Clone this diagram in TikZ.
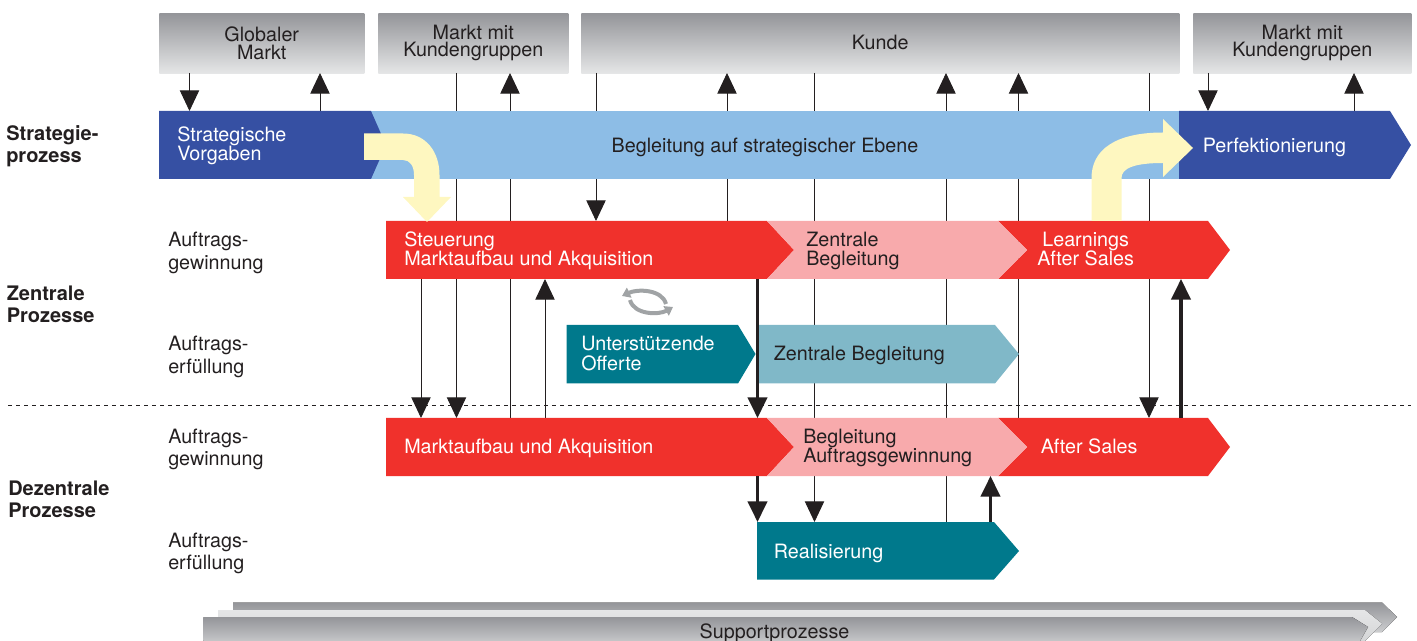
\documentclass[tikz,border=0pt]{standalone}
\usepackage{fontspec}
\setmainfont{TeX Gyre Heros}
\usetikzlibrary{arrows.meta}
\definecolor{inkblack}{RGB}{35,31,32}
\definecolor{darkblue}{RGB}{54,80,163}
\definecolor{lightblue}{RGB}{141,189,230}
\definecolor{redband}{RGB}{240,49,44}
\definecolor{pinkband}{RGB}{248,170,172}
\definecolor{darkteal}{RGB}{0,121,140}
\definecolor{lightteal}{RGB}{128,184,200}
\definecolor{paleyellow}{RGB}{254,247,192}
\definecolor{boxtop}{RGB}{148,149,153}
\definecolor{boxbottom}{RGB}{229,230,231}
\definecolor{cyclegrey}{RGB}{160,163,165}
\tikzset{
  head/.style={-{Triangle[length=15.5pt,width=14.5pt]},draw=inkblack,line width=0.65pt},
  headthick/.style={head,line width=2.4pt},
  greybox/.style={top color=boxtop,bottom color=boxbottom,draw=none,minimum height=45pt,inner sep=0pt,anchor=north west,text=inkblack,align=center,font=\fontsize{14.8}{12.9}\selectfont},
  bandtext/.style={anchor=west,inner sep=0pt,align=left,font=\fontsize{14.8}{14.3}\selectfont},
  sidetext/.style={anchor=west,inner sep=0pt,align=left,text=inkblack,font=\fontsize{14.8}{17}\selectfont},
  sidehead/.style={anchor=west,inner sep=0pt,align=left,text=inkblack,font=\fontsize{15}{16.8}\selectfont\bfseries},
  cyclearrow/.style={-{Triangle[length=6pt,width=8pt]},color=cyclegrey,line width=3pt}
}
\begin{document}
\begin{tikzpicture}[x=0.75pt,y=0.75pt,yscale=-1,xscale=1]
\useasboundingbox (0,0) rectangle (1417,641);
\clip (0,0) rectangle (1417,641);

% grey boxes
\node [greybox,minimum width=153.75pt] (globalbox) at (159,13) {Globaler\\Markt};
\node [greybox,minimum width=142.5pt] (marktbox) at (378,13) {Markt mit\\Kundengruppen};
\node [greybox,minimum width=448.5pt] (kundebox) at (581,13) {\raisebox{1.4pt}{Kunde}};
\node [greybox,minimum width=163.5pt] (marktboxb) at (1193,13) {Markt mit\\Kundengruppen};

% end points of the connectors
\coordinate (a1) at (189.5,73); \coordinate (a2) at (189.5,111);
\coordinate (b1) at (320,111); \coordinate (b2) at (320,73);
\coordinate (c1) at (456.5,73); \coordinate (c2) at (456.5,418);
\coordinate (d1) at (510,418); \coordinate (d2) at (510,73);
\coordinate (e1) at (596,73); \coordinate (e2) at (596,221);
\coordinate (f1) at (727,221); \coordinate (f2) at (727,73);
\coordinate (g1) at (814.5,73); \coordinate (g2) at (814.5,522);
\coordinate (h1) at (946,522); \coordinate (h2) at (946,73);
\coordinate (i1) at (1018.5,418); \coordinate (i2) at (1018.5,73);
\coordinate (j1) at (1149,73); \coordinate (j2) at (1149,418);
\coordinate (k1) at (1208,73); \coordinate (k2) at (1208,111);
\coordinate (l1) at (1354,111); \coordinate (l2) at (1354,73);
\coordinate (m1) at (421,279); \coordinate (m2) at (421,418);
\coordinate (n1) at (545,418); \coordinate (n2) at (545,279);
\coordinate (o1) at (757.5,279); \coordinate (o2) at (757.5,418);
\coordinate (p1) at (757.5,476); \coordinate (p2) at (757.5,522);
\coordinate (q1) at (1181,418); \coordinate (q2) at (1181,279);
\coordinate (r1) at (990.5,522); \coordinate (r2) at (990.5,476);

% thin lines and arrows
\foreach \from/\to in {a1/a2,b1/b2,c1/c2,d1/d2,e1/e2,f1/f2,g1/g2,h1/h2,i1/i2,j1/j2,k1/k2,l1/l2,m1/m2,n1/n2}
  \draw [head] (\from) -- (\to);

% dashed separator
\coordinate (sepleft) at (8,405.5); \coordinate (sepright) at (1411,405.5);
\draw [dashed,inkblack,line width=0.6pt] (sepleft) -- (sepright);

% strategy band
\fill [lightblue] (360,111) -- (1179,111) -- (1179,179) -- (360,179) -- cycle;
\fill [darkblue] (159,111) -- (371,111) -- (386,145) -- (371,179) -- (159,179) -- cycle;
\fill [darkblue] (1179,111) -- (1390,111) -- (1411,145) -- (1390,179) -- (1179,179) -- cycle;

% upper order band
\fill [redband] (386,221) -- (767,221) -- (794,250) -- (767,279) -- (386,279) -- cycle;
\fill [redband] (998,221) -- (1208,221) -- (1230,250) -- (1208,279) -- (998,279) -- (1027,250) -- cycle;
\fill [pinkband] (767,221) -- (998,221) -- (1027,250) -- (998,279) -- (767,279) -- (794,250) -- cycle;

% lower order band
\fill [redband] (386,418) -- (767,418) -- (794,447) -- (767,476) -- (386,476) -- cycle;
\fill [redband] (998,418) -- (1208,418) -- (1230,447) -- (1208,476) -- (998,476) -- (1027,447) -- cycle;
\fill [pinkband] (767,418) -- (998,418) -- (1027,447) -- (998,476) -- (767,476) -- (794,447) -- cycle;

% teal bands
\fill [darkteal] (566.5,325) -- (738,325) -- (755.5,354) -- (738,383.5) -- (566.5,383.5) -- cycle;
\fill [lightteal] (759,325) -- (995,325) -- (1019,354) -- (995,383.5) -- (759,383.5) -- cycle;
\fill [darkteal] (757,522) -- (994,522) -- (1019,551) -- (994,579.5) -- (757,579.5) -- cycle;

% thick arrows
\foreach \from/\to in {o1/o2,p1/p2,q1/q2,r1/r2}
  \draw [headthick] (\from) -- (\to);

% yellow arrows
\fill [paleyellow] (364,133.5) -- (403,133.5) .. controls (426,133.5) and (439.5,152) .. (439.5,175) -- (439.5,197) -- (451,197) -- (427,222) -- (403,197) -- (414,197) -- (414,175) .. controls (414,166) and (410,160) .. (403,160) -- (364,160) -- cycle;
\fill [paleyellow] (1091.5,221) -- (1091.5,178) .. controls (1091.5,150) and (1115,132.5) .. (1163,132.5) -- (1163,119) -- (1193,148) -- (1163,177) -- (1163,163) .. controls (1135,163) and (1121.5,168) .. (1121.5,178) -- (1121.5,221) -- cycle;

% cycle sign
\draw [cyclearrow] (666,304) .. controls (662,289) and (637,289) .. (622,296);
\draw [cyclearrow] (630,300) .. controls (634,315) and (659,315) .. (673,307);

% support arrows
\fill [top color=boxtop,bottom color=boxbottom!70!boxtop] (233,602.5) -- (1382,602.5) -- (1397,617) -- (1382,632) -- (233,632) -- cycle;
\fill [top color=boxbottom,bottom color=boxbottom!80!boxtop] (218,610) -- (1365,610) -- (1382,623.5) -- (1365,641) -- (218,641) -- cycle;
\fill [top color=boxtop,bottom color=boxbottom!60!boxtop] (203.5,617) -- (1352,617) -- (1368,627) -- (1360,641) -- (203.5,641) -- cycle;

% Text Node
\node [bandtext,text=white] (vorgaben) at (177,146) {Strategische\\Vorgaben};
\node [bandtext,anchor=center,text=inkblack] (ebene) at (765,147) {Begleitung auf strategischer Ebene};
\node [bandtext,text=white] (perfekt) at (1202.5,147) {Perfektionierung};
\node [bandtext,text=white] (steuerung) at (404,251) {Steuerung\\Marktaufbau und Akquisition};
\node [bandtext,text=inkblack] (zentralea) at (806,251) {Zentrale\\Begleitung};
\node [bandtext,text=white,align=center] (learnings) at (1037,249) {Learnings\\After Sales};
\node [bandtext,text=white] (offerte) at (581,353.5) {Unterstützende\\Offerte};
\node [bandtext,text=inkblack] (zentraleb) at (773.5,355) {Zentrale Begleitung};
\node [bandtext,text=white] (marktaufbau) at (404,448) {Marktaufbau und Akquisition};
\node [bandtext,text=inkblack] (begleitung) at (803,448) {Begleitung\\Auftragsgewinnung};
\node [bandtext,text=white] (aftersales) at (1040.5,446) {After Sales};
\node [bandtext,text=white] (realisierung) at (773.5,553.5) {Realisierung};
\node [font=\fontsize{14.8}{14}\selectfont,text=inkblack,inner sep=0pt] (support) at (774.5,633) {Supportprozesse};

\node [sidehead] (strategie) at (6,146.5) {Strategie-\\prozess};
\node [sidehead] (zentrale) at (6.5,304.5) {Zentrale\\Prozesse};
\node [sidehead] (dezentrale) at (8,499.5) {Dezentrale\\Prozesse};
\node [sidetext] (gewinnunga) at (168,253) {Auftrags-\\gewinnung};
\node [sidetext] (erfuellunga) at (168,357) {Auftrags-\\erfüllung};
\node [sidetext] (gewinnungb) at (168,449.5) {Auftrags-\\gewinnung};
\node [sidetext] (erfuellungb) at (168,553.5) {Auftrags-\\erfüllung};
\end{tikzpicture}
\end{document}
